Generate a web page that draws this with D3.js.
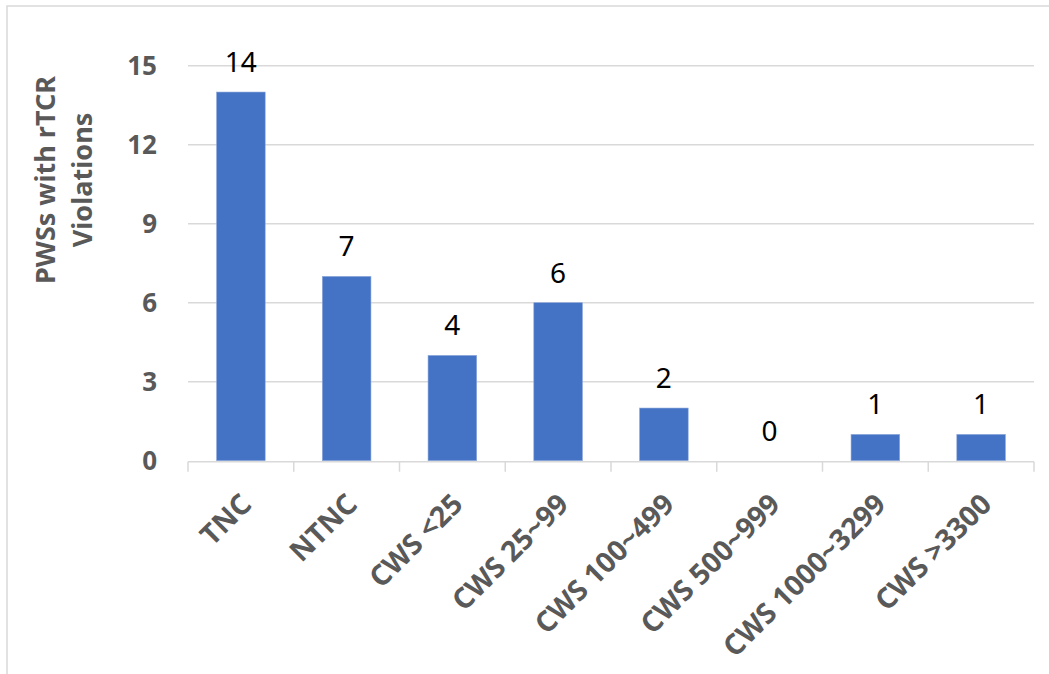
<!DOCTYPE html>
<html>
<head>
<meta charset="utf-8">
<script src="https://cdn.jsdelivr.net/npm/d3@7"></script>
<style>
  body { margin: 0; background: #fff; }
  svg { display: block; font-family: "Noto Sans", sans-serif; }
</style>
</head>
<body>
<svg id="chart" width="1049" height="674"></svg>
<script>
const categories = ['TNC', 'NTNC', 'CWS <25', 'CWS 25~99', 'CWS 100~499', 'CWS 500~999', 'CWS 1000~3299', 'CWS >3300'];
const counts = [14, 7, 4, 6, 2, 0, 1, 1];
const yTicks = [0, 3, 6, 9, 12, 15];
const yTitle = ['PWSs with rTCR', 'Violations'];

const svg = d3.select('#chart');
const plotLeft = 188, plotRight = 1034, plotTop = 65.7, plotBottom = 460.7;
const grey = '#595959';

// chart frame (only top and left edges show in the crop)
svg.append('rect')
  .attr('x', 7).attr('y', 6)
  .attr('width', 1200).attr('height', 800)
  .attr('fill', 'none')
  .attr('stroke', '#d9d9d9')
  .attr('stroke-width', 1.5);

const x = d3.scaleBand()
  .domain(categories)
  .range([plotLeft, plotRight])
  .paddingInner(0.54)
  .paddingOuter(0.27);

const y = d3.scaleLinear()
  .domain([0, 15])
  .range([plotBottom, plotTop]);

// gridlines
svg.append('g')
  .selectAll('line')
  .data(yTicks.filter(d => d > 0))
  .join('line')
  .attr('x1', plotLeft).attr('x2', plotRight)
  .attr('y1', d => y(d)).attr('y2', d => y(d))
  .attr('stroke', '#d9d9d9')
  .attr('stroke-width', 1.5);

// y tick labels
svg.append('g')
  .selectAll('text')
  .data(yTicks)
  .join('text')
  .attr('x', 157)
  .attr('y', d => y(d))
  .attr('dy', '0.36em')
  .attr('text-anchor', 'end')
  .attr('font-size', 26)
  .attr('font-weight', 'bold')
  .attr('fill', grey)
  .text(d => d);

// y title, two lines
const yt = svg.append('text')
  .attr('transform', 'translate(63,180) rotate(-90)')
  .attr('text-anchor', 'middle')
  .attr('font-size', 27)
  .attr('font-weight', 'bold')
  .attr('fill', grey);
yTitle.forEach(function(t, i) {
  yt.append('tspan')
    .attr('x', 0)
    .attr('y', i * 37 - 8)
    .text(t);
});

// bars
svg.append('g')
  .selectAll('rect')
  .data(counts)
  .join('rect')
  .attr('x', (d, i) => x(categories[i]))
  .attr('y', d => y(d))
  .attr('width', x.bandwidth())
  .attr('height', d => plotBottom - y(d))
  .attr('fill', '#4472c4')
  .attr('stroke', '#8faadc')
  .attr('stroke-width', 0.6);

// value labels
svg.append('g')
  .selectAll('text')
  .data(counts)
  .join('text')
  .attr('x', (d, i) => x(categories[i]) + x.bandwidth() / 2)
  .attr('y', d => y(d) - 20)
  .attr('text-anchor', 'middle')
  .attr('font-size', 28)
  .attr('fill', '#000')
  .text(d => d);

// x axis line and ticks between categories
const step = x.step();
const axis = svg.append('g');
axis.append('line')
  .attr('x1', plotLeft).attr('x2', plotRight)
  .attr('y1', plotBottom + 1).attr('y2', plotBottom + 1)
  .attr('stroke', '#d9d9d9')
  .attr('stroke-width', 1.5);
axis.selectAll('.tick')
  .data(d3.range(categories.length + 1))
  .join('line')
  .attr('class', 'tick')
  .attr('x1', i => plotLeft + i * step).attr('x2', i => plotLeft + i * step)
  .attr('y1', plotBottom + 1).attr('y2', plotBottom + 11)
  .attr('stroke', '#d9d9d9')
  .attr('stroke-width', 1.5);

// category labels, rotated
svg.append('g')
  .selectAll('text')
  .data(categories)
  .join('text')
  .attr('transform', d => 'translate(' + (x(d) + x.bandwidth() / 2 + 5) + ',' + (plotBottom + 38) + ') rotate(-45)')
  .attr('text-anchor', 'end')
  .attr('dy', '0.36em')
  .attr('font-size', 28.5)
  .attr('font-weight', 'bold')
  .attr('fill', grey)
  .text(d => d);
</script>
</body>
</html>
